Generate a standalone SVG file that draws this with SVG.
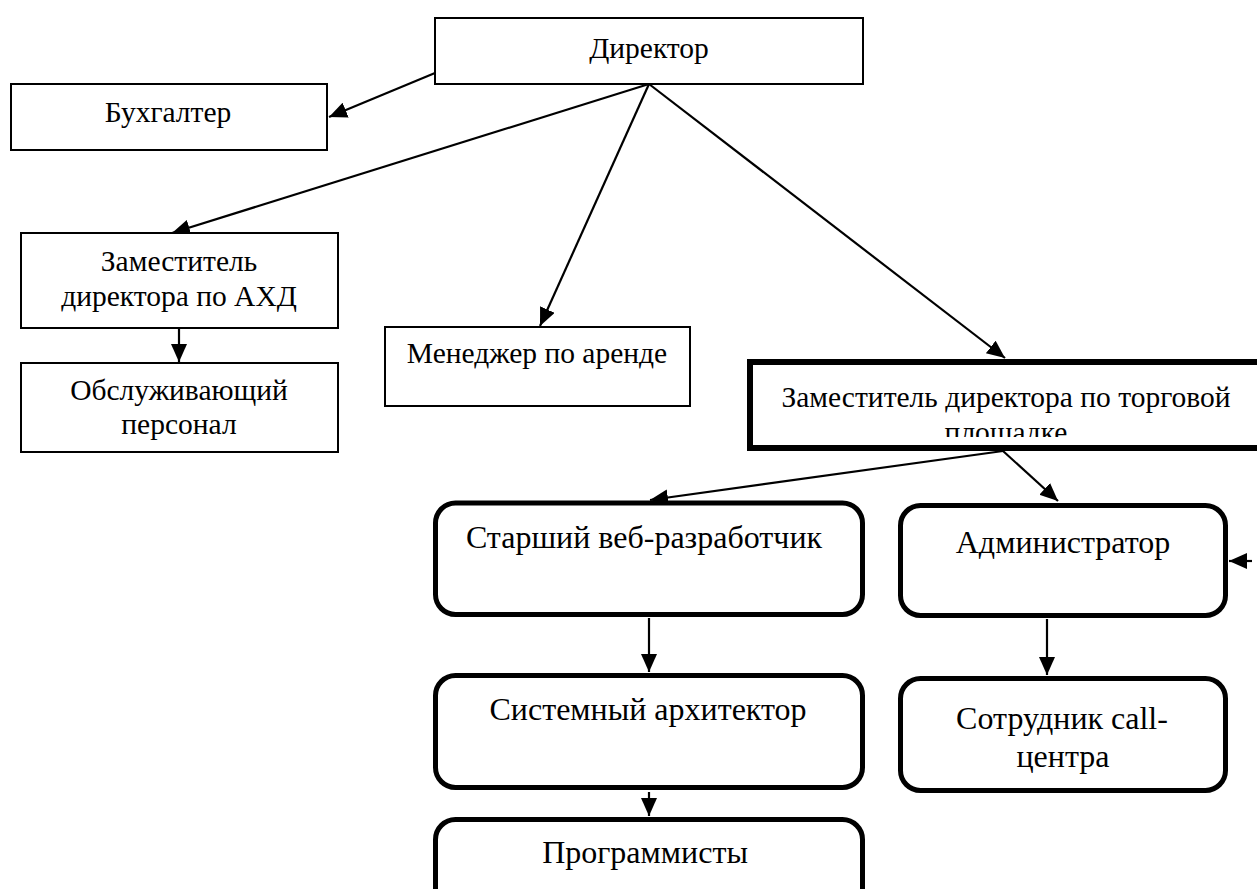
<svg xmlns="http://www.w3.org/2000/svg" width="1257" height="889" viewBox="0 0 1257 889">
<style>
.box{fill:#fff;stroke:#000;stroke-width:2}
.rbox{fill:#fff;stroke:#000;stroke-width:5}
.thick{fill:#fff;stroke:#000;stroke-width:6}
.t{font-family:"Liberation Serif","Times New Roman",serif;font-size:29.5px;fill:#000;text-anchor:middle}
.r{font-family:"Liberation Serif","Times New Roman",serif;font-size:32px;fill:#000;text-anchor:middle}
.c{stroke:#000;stroke-width:2.2;fill:none;marker-end:url(#ah)}
</style>
<defs>
<marker id="ah" markerUnits="userSpaceOnUse" markerWidth="20" markerHeight="18" refX="18" refY="8" orient="auto">
<path d="M0,0 L18,8 L0,16 z" fill="#000"/>
</marker>
<clipPath id="clipTorg"><rect x="750" y="362" width="507" height="75"/></clipPath>
</defs>
<rect width="1257" height="889" fill="#fff"/>
<g id="connectors">
<line class="c" x1="435" y1="73" x2="329" y2="117"/>
<line class="c" x1="649" y1="84" x2="172" y2="233"/>
<line class="c" x1="649" y1="84" x2="540" y2="326"/>
<line class="c" x1="649" y1="84" x2="1005" y2="358"/>
<line class="c" x1="179" y1="328" x2="179" y2="362"/>
<line class="c" x1="1003" y1="451" x2="650" y2="500"/>
<line class="c" x1="1003" y1="451" x2="1058" y2="501"/>
<line class="c" x1="649" y1="618" x2="649" y2="672"/>
<line class="c" x1="1047" y1="619" x2="1047" y2="675"/>
<line class="c" x1="649" y1="792" x2="649" y2="816"/>
<line class="c" x1="1252" y1="561" x2="1229" y2="561"/>
</g>
<g id="director">
<rect class="box" x="435" y="18" width="428" height="66"/>
<text class="t" x="649" y="58">Директор</text>
</g>
<g id="accountant">
<rect class="box" x="11" y="84" width="316" height="66"/>
<text class="t" x="168" y="122">Бухгалтер</text>
</g>
<g id="deputy-ahd">
<rect class="box" x="21" y="233" width="317" height="95"/>
<text class="t" x="179" y="271">Заместитель</text>
<text class="t" x="179" y="306">директора по АХД</text>
</g>
<g id="service-staff">
<rect class="box" x="21" y="363" width="317" height="89"/>
<text class="t" x="179" y="400">Обслуживающий</text>
<text class="t" x="179" y="434">персонал</text>
</g>
<g id="rent-manager">
<rect class="box" x="385" y="327" width="305" height="79"/>
<text class="t" x="537" y="363">Менеджер по аренде</text>
</g>
<g id="deputy-trade">
<rect class="thick" x="750" y="362" width="620" height="86"/>
<g clip-path="url(#clipTorg)">
<text class="t" x="1006" y="407">Заместитель директора по торговой</text>
<text class="t" x="1006" y="442">площадке</text>
</g>
</g>
<g id="senior-web">
<rect class="rbox" x="435.5" y="503" width="427" height="111.5" rx="20"/>
<text class="r" x="644" y="548">Старший веб-разработчик</text>
</g>
<g id="administrator">
<rect class="rbox" x="900.5" y="505.5" width="325" height="110" rx="20"/>
<text class="r" x="1063" y="553">Администратор</text>
</g>
<g id="sys-architect">
<rect class="rbox" x="435.5" y="675.5" width="427" height="112" rx="20"/>
<text class="r" x="648" y="720">Системный архитектор</text>
</g>
<g id="call-center">
<rect class="rbox" x="900.5" y="678.5" width="325" height="112" rx="20"/>
<text class="r" x="1062" y="729">Сотрудник call-</text>
<text class="r" x="1063" y="767">центра</text>
</g>
<g id="programmers">
<rect class="rbox" x="435.5" y="819.5" width="427" height="100" rx="20"/>
<text class="r" x="645" y="863">Программисты</text>
</g>
</svg>
